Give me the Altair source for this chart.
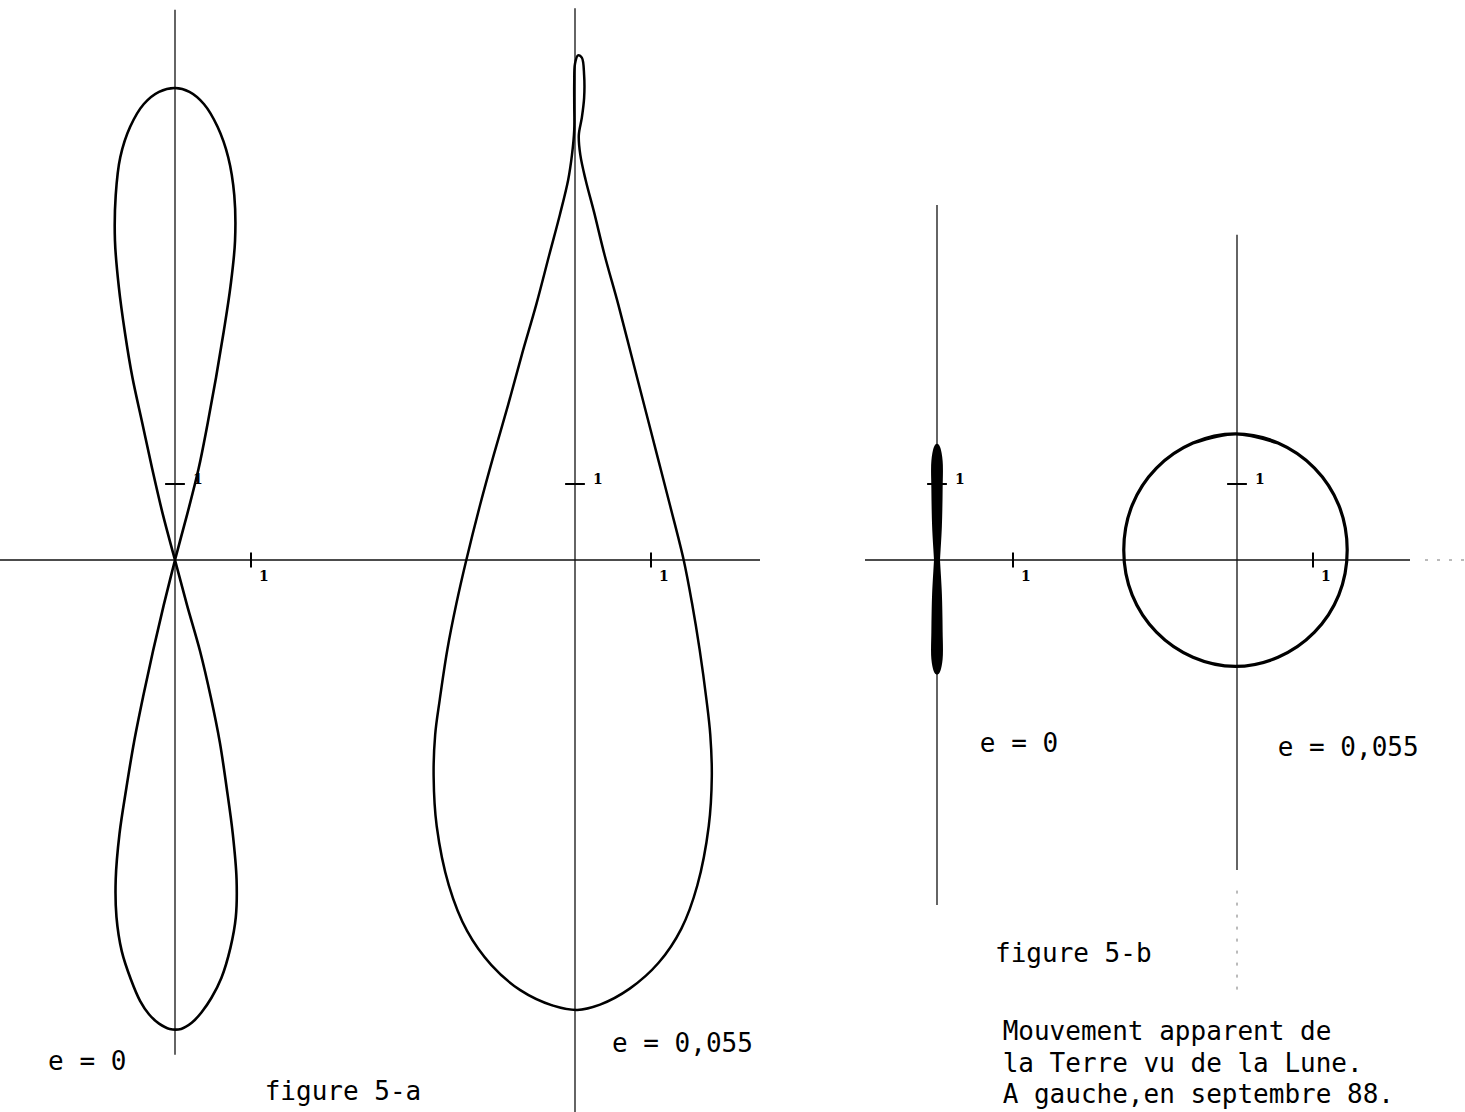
import altair as alt
import pandas as pd

# Drawing scale: one unit of the diagrams corresponds to this many pixels.
UNIT_PX = 76
CANVAS_W, CANVAS_H = 1465, 1112

# Horizontal position of each diagram's origin (in units, common x axis).
ORIGIN_A_E0 = 0.0
ORIGIN_A_E055 = 400 / UNIT_PX
ORIGIN_B_E0 = 762 / UNIT_PX
ORIGIN_B_E055 = 1062 / UNIT_PX

# --- Curves (local coordinates, unit = tick "1") ---------------------------
# figure 5-a, e = 0 : figure-eight (upper loop, then lower loop)
a_e0_x = [0, 0.16, 0.31, 0.43, 0.54, 0.64, 0.73, 0.79, 0.78, 0.70, 0.56, 0.38, 0.19, 0,
          -0.21, -0.41, -0.59, -0.72, -0.78, -0.79, -0.74, -0.66, -0.56, -0.43, -0.30, -0.16,
          0, 0.16, 0.33, 0.47, 0.59, 0.68, 0.76, 0.81, 0.80, 0.73, 0.61, 0.48, 0.35, 0.22,
          0.08, -0.07, -0.21, -0.34, -0.46, -0.58, -0.70, -0.77, -0.78, -0.73, -0.64, -0.54,
          -0.42, -0.29, -0.15]
a_e0_y = [0, 0.6, 1.2, 1.8, 2.4, 3.0, 3.6, 4.2, 4.8, 5.3, 5.7, 6.0, 6.16, 6.21,
          6.16, 6.0, 5.7, 5.3, 4.8, 4.2, 3.6, 3.0, 2.4, 1.8, 1.2, 0.6,
          0, -0.6, -1.2, -1.8, -2.4, -3.0, -3.6, -4.2, -4.7, -5.1, -5.5, -5.76, -5.95, -6.09,
          -6.17, -6.17, -6.10, -5.98, -5.80, -5.52, -5.15, -4.7, -4.2, -3.6, -3.0, -2.4,
          -1.8, -1.2, -0.6]

# figure 5-a, e = 0,055 : teardrop with a small loop at the top
a_e055_x = [0.03, -0.30, -0.72, -1.10, -1.42, -1.66, -1.82, -1.86, -1.84, -1.78, -1.68,
            -1.56, -1.43, -1.25, -1.07, -0.88, -0.70, -0.51, -0.34, -0.20, -0.09, -0.04,
            -0.01, -0.01, -0.01, 0.0, 0.04, 0.09, 0.12, 0.12, 0.09, 0.05, 0.07, 0.14, 0.25,
            0.39, 0.57, 0.74, 0.91, 1.08, 1.25, 1.43, 1.54, 1.64, 1.73, 1.78, 1.80, 1.76,
            1.61, 1.40, 1.10, 0.72, 0.33]
a_e055_y = [-5.92, -5.86, -5.66, -5.33, -4.88, -4.28, -3.50, -2.85, -2.30, -1.84, -1.18,
            -0.57, 0.0, 0.72, 1.38, 2.04, 2.70, 3.36, 4.01, 4.54, 5.00, 5.33,
            5.66, 5.99, 6.29, 6.53, 6.64, 6.61, 6.38, 6.08, 5.82, 5.59, 5.33, 5.00, 4.58,
            4.01, 3.36, 2.70, 2.04, 1.38, 0.72, 0.0, -0.57, -1.18, -1.84, -2.30, -2.85, -3.50,
            -4.28, -4.85, -5.30, -5.64, -5.85]

# figure 5-b, e = 0 : very thin figure-eight
b_e0_x = [0, 0.025, 0.035, 0.035, 0, -0.035, -0.035, -0.025,
          0, 0.025, 0.035, 0.035, 0, -0.035, -0.035, -0.025]
b_e0_y = [0, 0.45, 0.95, 1.30, 1.49, 1.30, 0.95, 0.45,
          0, -0.45, -0.95, -1.30, -1.47, -1.30, -0.95, -0.45]

# figure 5-b, e = 0,055 : near-circle, slightly above the axis
b_e055_x = [-0.02, 0.54, 1.02, 1.34, 1.45, 1.34, 1.02, 0.54, -0.02, -0.58, -1.06, -1.38,
            -1.49, -1.38, -1.06, -0.58]
b_e055_y = [1.66, 1.54, 1.21, 0.72, 0.13, -0.46, -0.95, -1.28, -1.40, -1.28, -0.95, -0.46,
            0.13, 0.72, 1.21, 1.54]

# --- Axes (local coordinates): vertical extent of each diagram's y axis ------
axis_v_top = [7.24, 7.26, 4.67, 4.28]
axis_v_bottom = [-6.51, -7.30, -4.54, -4.08]
tick_label = "1"

# --- Texts ------------------------------------------------------------------
labels = ["e = 0", "figure 5-a", "e = 0,055", "e = 0", "e = 0,055", "figure 5-b",
          "Mouvement apparent de", "la Terre vu de la Lune.", "A gauche,en septembre 88."]
labels_x = [-1.67, 1.18, 5.75, 10.59, 14.51, 10.79, 10.89, 10.89, 10.89]
labels_y = [-6.71, -7.11, -6.47, -2.53, -2.58, -5.29, -6.32, -6.74, -7.14]

origins = [ORIGIN_A_E0, ORIGIN_A_E055, ORIGIN_B_E0, ORIGIN_B_E055]

xscale = alt.Scale(domain=[-175 / UNIT_PX, (CANVAS_W - 175) / UNIT_PX], nice=False, zero=False)
yscale = alt.Scale(domain=[(560 - CANVAS_H) / UNIT_PX, 560 / UNIT_PX], nice=False, zero=False)


def curve_frame(xs, ys, ox):
    # wrap the closed path so the spline has neighbours on both ends
    px = [xs[-1]] + list(xs) + [xs[0], xs[1]]
    py = [ys[-1]] + list(ys) + [ys[0], ys[1]]
    return pd.DataFrame({"x": [ox + v for v in px], "y": py, "i": list(range(len(px)))})


def curve_layer(df, width):
    return alt.Chart(df).mark_line(
        interpolate="catmull-rom", color="black", strokeWidth=width,
        strokeJoin="round", strokeCap="round"
    ).encode(
        x=alt.X("x:Q", scale=xscale, axis=None),
        y=alt.Y("y:Q", scale=yscale, axis=None),
        order="i:Q",
    )


curves = [
    curve_layer(curve_frame(a_e0_x, a_e0_y, ORIGIN_A_E0), 2.6),
    curve_layer(curve_frame(a_e055_x, a_e055_y, ORIGIN_A_E055), 2.5),
    curve_layer(curve_frame(b_e0_x, b_e0_y, ORIGIN_B_E0), 6),
    curve_layer(curve_frame(b_e055_x, b_e055_y, ORIGIN_B_E055), 3.2),
]

# Axis lines: two long horizontal axes and one vertical axis per diagram
axis_rows = []
axis_rows.append({"x": -175 / UNIT_PX, "x2": 585 / UNIT_PX, "y": 0, "y2": 0})
axis_rows.append({"x": 690 / UNIT_PX, "x2": 1235 / UNIT_PX, "y": 0, "y2": 0})
for ox, top, bot in zip(origins, axis_v_top, axis_v_bottom):
    axis_rows.append({"x": ox, "x2": ox, "y": top, "y2": bot})
axes_df = pd.DataFrame(axis_rows)

axes = alt.Chart(axes_df).mark_rule(color="#111", strokeWidth=1.3).encode(
    x=alt.X("x:Q", scale=xscale, axis=None), x2="x2:Q",
    y=alt.Y("y:Q", scale=yscale, axis=None), y2="y2:Q",
)

# faint dashed continuations
dash_df = pd.DataFrame([
    {"x": 1250 / UNIT_PX, "x2": 1290 / UNIT_PX, "y": 0, "y2": 0},
    {"x": ORIGIN_B_E055, "x2": ORIGIN_B_E055, "y": -4.35, "y2": -5.66},
])
dashes = alt.Chart(dash_df).mark_rule(color="#777", strokeWidth=1, strokeDash=[3, 9]).encode(
    x=alt.X("x:Q", scale=xscale, axis=None), x2="x2:Q",
    y=alt.Y("y:Q", scale=yscale, axis=None), y2="y2:Q",
)

# Unit ticks on each diagram's axes
tick_rows = []
tick_len = 0.13
for ox in origins:
    tick_rows.append({"x": ox + 1, "x2": ox + 1, "y": -0.1, "y2": 0.1})
    tick_rows.append({"x": ox - tick_len, "x2": ox + tick_len, "y": 1, "y2": 1})
ticks_df = pd.DataFrame(tick_rows)
ticks = alt.Chart(ticks_df).mark_rule(color="black", strokeWidth=2).encode(
    x=alt.X("x:Q", scale=xscale, axis=None), x2="x2:Q",
    y=alt.Y("y:Q", scale=yscale, axis=None), y2="y2:Q",
)

tick_text_rows = []
for ox in origins:
    tick_text_rows.append({"x": ox + 1.17, "y": -0.22, "t": tick_label})
    tick_text_rows.append({"x": ox + 0.30, "y": 1.05, "t": tick_label})
tick_text = alt.Chart(pd.DataFrame(tick_text_rows)).mark_text(
    font="DejaVu Serif", fontSize=14, fontWeight="bold", color="black", align="center",
    baseline="middle"
).encode(
    x=alt.X("x:Q", scale=xscale, axis=None),
    y=alt.Y("y:Q", scale=yscale, axis=None),
    text="t:N",
)

label_df = pd.DataFrame({"x": labels_x, "y": labels_y, "t": labels})
texts = alt.Chart(label_df).mark_text(
    font="DejaVu Sans Mono", fontSize=26, color="black", align="left", baseline="alphabetic"
).encode(
    x=alt.X("x:Q", scale=xscale, axis=None),
    y=alt.Y("y:Q", scale=yscale, axis=None),
    text="t:N",
)

chart = alt.layer(axes, dashes, ticks, *curves, tick_text, texts).properties(
    width=CANVAS_W, height=CANVAS_H, padding=0, autosize="none", background="white"
).configure_view(strokeWidth=0)

chart.save("out.html", embed_options={"renderer": "svg", "actions": False})
